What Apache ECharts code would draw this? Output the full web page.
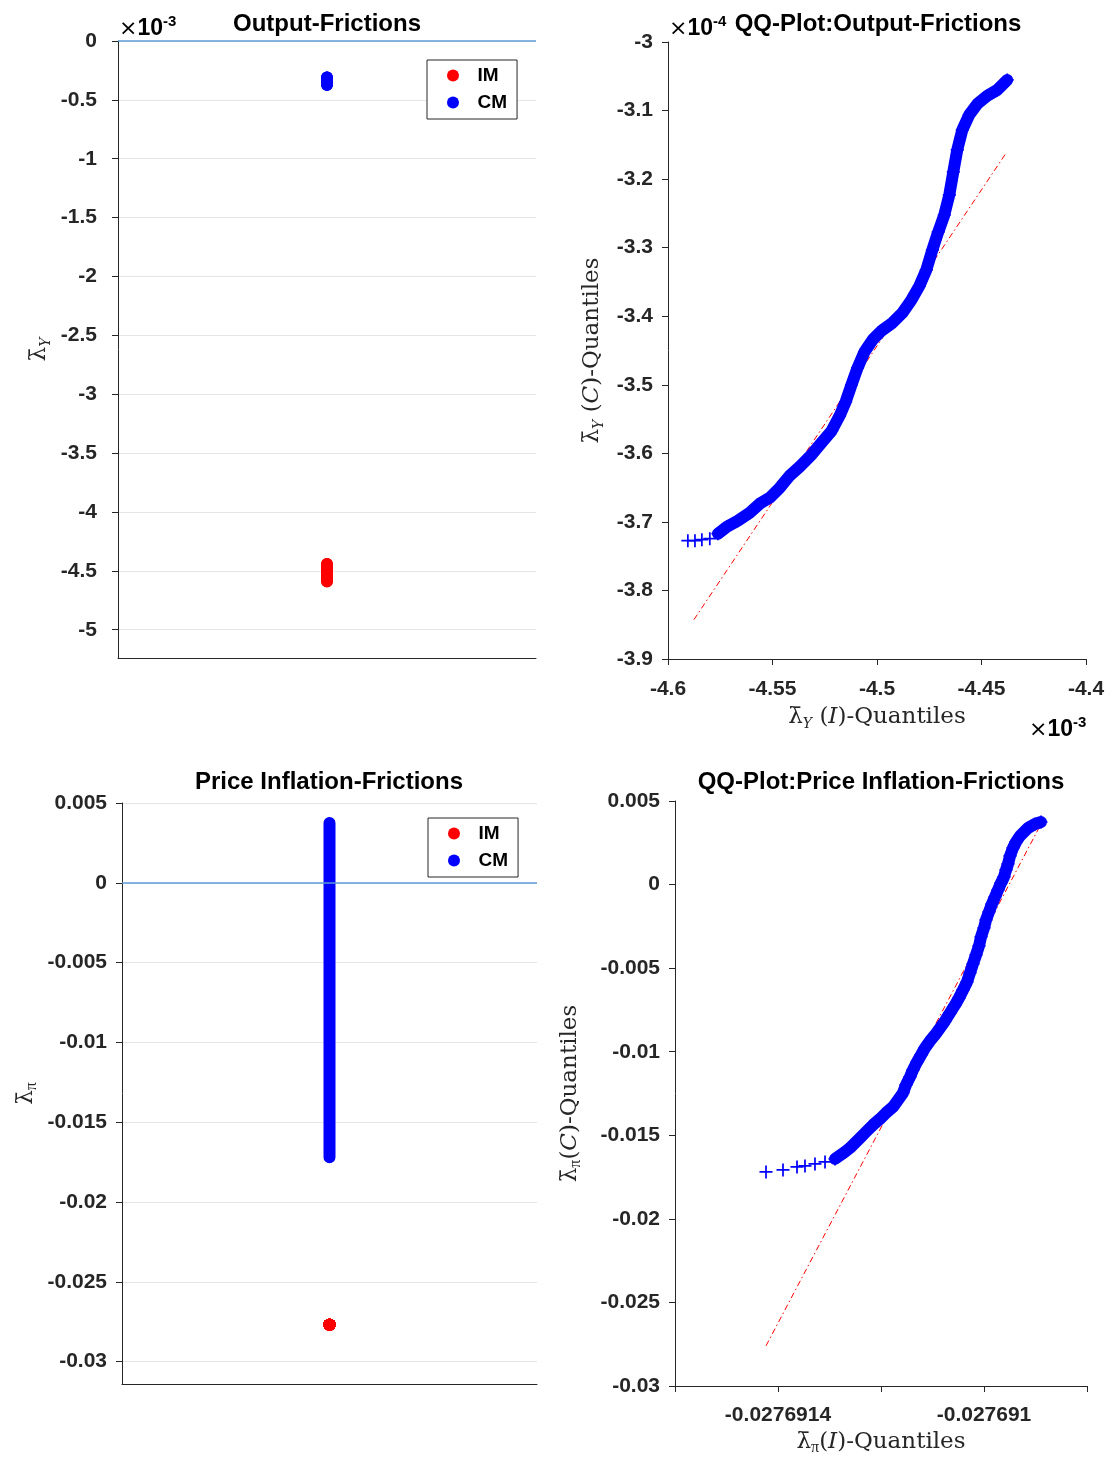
<!DOCTYPE html>
<html><head><meta charset="utf-8">
<script src="https://cdn.jsdelivr.net/npm/echarts@6/dist/echarts.min.js"></script>
<style>html,body{margin:0;padding:0;background:#fff}#c{width:1113px;height:1459px}</style>
</head><body><div id="c"></div>
<script>
// ---- Output frictions: sorted quantiles. IM in units of 1e-3, CM in units of 1e-4 ----
const outIM = [-4.5905,-4.5871,-4.5838,-4.5800,-4.5761,-4.5718,-4.5666,-4.5609,-4.5561,-4.5513,-4.5465,-4.5418,-4.5370,-4.5313,-4.5265,-4.5217,-4.5179,-4.5150,-4.5122,-4.5093,-4.5060,-4.5021,-4.4979,-4.4926,-4.4878,-4.4835,-4.4797,-4.4764,-4.4735,-4.4707,-4.4678,-4.4654,-4.4635,-4.4616,-4.4592,-4.4559,-4.4520,-4.4473,-4.4425,-4.4396,-4.4377];
const outCM = [-3.7274,-3.7274,-3.7259,-3.7245,-3.7172,-3.7070,-3.6983,-3.6866,-3.6735,-3.6647,-3.6501,-3.6327,-3.6195,-3.6020,-3.5845,-3.5671,-3.5452,-3.5248,-3.5000,-3.4752,-3.4519,-3.4344,-3.4213,-3.4096,-3.3950,-3.3761,-3.3557,-3.3324,-3.3032,-3.2770,-3.2522,-3.2230,-3.1895,-3.1574,-3.1283,-3.1064,-3.0904,-3.0787,-3.0700,-3.0612,-3.0554];
const outRefX = [-4.5876, -4.4382];
const outRefY = [-3.8426, -3.1618];

// ---- Price inflation frictions: sorted quantiles ----
const piIM = [-0.0276914233,-0.0276913903,-0.0276913631,-0.0276913476,-0.0276913282,-0.0276913087,-0.0276912893,-0.0276912699,-0.0276912602,-0.0276912505,-0.0276912388,-0.0276912272,-0.0276912155,-0.0276912020,-0.0276911903,-0.0276911767,-0.0276911670,-0.0276911573,-0.0276911515,-0.0276911437,-0.0276911379,-0.0276911301,-0.0276911223,-0.0276911146,-0.0276911049,-0.0276910952,-0.0276910854,-0.0276910757,-0.0276910660,-0.0276910563,-0.0276910486,-0.0276910408,-0.0276910330,-0.0276910272,-0.0276910214,-0.0276910155,-0.0276910097,-0.0276910058,-0.0276910000,-0.0276909961,-0.0276909903,-0.0276909845,-0.0276909786,-0.0276909728,-0.0276909670,-0.0276909612,-0.0276909573,-0.0276909534,-0.0276909495,-0.0276909437,-0.0276909379,-0.0276909301,-0.0276909146,-0.0276909010,-0.0276908893];
const piCM = [-0.017190,-0.017070,-0.016891,-0.016831,-0.016711,-0.016592,-0.016412,-0.015993,-0.015754,-0.015455,-0.015096,-0.014737,-0.014378,-0.014020,-0.013661,-0.013302,-0.012883,-0.012465,-0.011986,-0.011508,-0.011089,-0.010610,-0.010192,-0.009773,-0.009354,-0.008996,-0.008577,-0.008158,-0.007680,-0.007201,-0.006783,-0.006304,-0.005826,-0.005287,-0.004749,-0.004211,-0.003672,-0.003134,-0.002596,-0.002117,-0.001639,-0.001160,-0.000742,-0.000323,0.000096,0.000455,0.000873,0.001232,0.001710,0.002189,0.002548,0.002907,0.003385,0.003624,0.003744];
const piRefX = [-0.0276914233, -0.0276908913];
const piRefY = [-0.027597, 0.003505];

// ---- tick labels / texts ----
const piXTickVals = [-0.0276914, -0.027691];
const piXTickLabels = ['-0.0276914', '-0.027691'];
const titles = ['Output-Frictions', 'QQ-Plot:Output-Frictions', 'Price Inflation-Frictions', 'QQ-Plot:Price Inflation-Frictions'];
const legendNames = ['IM', 'CM'];

const SANS = 'Liberation Sans', SERIF = 'DejaVu Serif';
const AX = '#262626', BLUE = '#0000ff', RED = '#ff0000', ZERO = '#5b9bd5';
const plusPath = 'path://M0,5.2 L12,5.2 L12,6.8 L0,6.8 Z M5.2,0 L6.8,0 L6.8,12 L5.2,12 Z';

const nameRich = {
  l: {fontFamily: SERIF, fontSize: 23, color: AX, lineHeight: 28, verticalAlign: 'middle'},
  i: {fontFamily: SERIF, fontSize: 23, fontStyle: 'italic', color: AX, lineHeight: 28, verticalAlign: 'middle'},
  s: {fontFamily: SERIF, fontSize: 14, fontStyle: 'italic', color: AX, lineHeight: 17, verticalAlign: 'bottom'},
  p: {fontFamily: 'Liberation Serif', fontSize: 16, color: AX, lineHeight: 17, verticalAlign: 'bottom'}
};
const tickLabel = (m) => ({fontFamily: SANS, fontWeight: 'bold', fontSize: 21, color: AX, margin: m});
const axLine = {show: true, onZero: false, lineStyle: {color: AX, width: 1}};
const axTick = {show: true, inside: false, length: 6, lineStyle: {color: AX}};
const grid = {show: true, lineStyle: {color: '#e6e6e6', width: 1}};

function legendAt(l, t) {
  return {data: legendNames, orient: 'vertical', left: l, top: t, icon: 'circle', itemWidth: 39, itemHeight: 12,
    itemGap: 8, padding: [6, 10, 7, 20], borderColor: AX, borderWidth: 1, backgroundColor: '#fff',
    textStyle: {fontFamily: SANS, fontWeight: 'bold', fontSize: 19, color: '#000'}};
}
function zeroLine() {
  return {silent: true, symbol: ['none', 'none'], label: {show: false},
    lineStyle: {color: ZERO, width: 1.5, type: 'solid'}, data: [{yAxis: 0}]};
}
function expText(x, y, e) {
  return {type: 'text', left: x, top: y, silent: true,
    style: {text: '{x|×}{n|10}{e|' + e + '}', rich: {
      x: {fontFamily: 'DejaVu Sans', fontSize: 22, color: AX, lineHeight: 26, verticalAlign: 'bottom'},
      n: {fontFamily: SANS, fontWeight: 'bold', fontSize: 23, color: AX, lineHeight: 26, verticalAlign: 'bottom'},
      e: {fontFamily: SANS, fontWeight: 'bold', fontSize: 15, color: AX, lineHeight: 15, verticalAlign: 'top'}}}};
}
// a stack of markers drawn as a continuous column (same values, library scale)
function column(xi, yi, color, vals) {
  return {name: 'col', type: 'line', xAxisIndex: xi, yAxisIndex: yi, showSymbol: false, silent: true,
    lineStyle: {color: color, width: 12, cap: 'round'}, data: vals.map(v => [1, v])};
}

const option = {
  animation: false,
  backgroundColor: '#fff',
  title: [
    {text: titles[0], left: 327, top: 12, textAlign: 'center'},
    {text: titles[1], left: 878, top: 12, textAlign: 'center'},
    {text: titles[2], left: 329, top: 770, textAlign: 'center'},
    {text: titles[3], left: 881, top: 770, textAlign: 'center'}
  ].map(t => Object.assign(t, {padding: 0, textStyle: {fontFamily: SANS, fontWeight: 'bold', fontSize: 24, color: '#000'}})),
  legend: [legendAt(427, 60), legendAt(428, 818)],
  grid: [
    {left: 118, top: 41, width: 418, height: 617},
    {left: 668, top: 42, width: 418, height: 617},
    {left: 122, top: 803, width: 415, height: 581},
    {left: 675, top: 801, width: 412, height: 585}
  ],
  xAxis: [
    {gridIndex: 0, type: 'value', min: 0, max: 2, axisLine: axLine, axisTick: {show: false}, axisLabel: {show: false}, splitLine: {show: false}},
    {gridIndex: 1, type: 'value', min: -4.6, max: -4.4, interval: 0.05, axisLine: axLine, axisTick: axTick,
      axisLabel: tickLabel(20), splitLine: {show: false},
      name: '{l|λ̄}{s|Y}{l| (}{i|I}{l|)-Quantiles}', nameLocation: 'middle', nameGap: 44, nameTextStyle: {rich: nameRich}},
    {gridIndex: 2, type: 'value', min: 0, max: 2, axisLine: axLine, axisTick: {show: false}, axisLabel: {show: false}, splitLine: {show: false}},
    {gridIndex: 3, type: 'value', min: -0.0276916, max: -0.0276908, interval: 0.0000002, axisLine: axLine, axisTick: axTick,
      axisLabel: Object.assign(tickLabel(19), {showMinLabel: true, showMaxLabel: true, formatter: v => {
        for (let k = 0; k < piXTickVals.length; k++) if (Math.abs(v - piXTickVals[k]) < 1e-11) return piXTickLabels[k];
        return '';
      }}), splitLine: {show: false},
      name: '{l|λ̄}{p|π}{l|(}{i|I}{l|)-Quantiles}', nameLocation: 'middle', nameGap: 42, nameTextStyle: {rich: nameRich}}
  ],
  yAxis: [
    {gridIndex: 0, type: 'value', min: -5.24, max: 0, splitNumber: 10, axisLine: axLine, axisTick: axTick,
      axisLabel: Object.assign(tickLabel(21), {showMinLabel: false}), splitLine: grid,
      name: '{l|λ̄}{s|Y}', nameLocation: 'middle', nameGap: 65, nameTextStyle: {rich: nameRich}},
    {gridIndex: 1, type: 'value', min: -3.9, max: -3, interval: 0.1, axisLine: axLine, axisTick: axTick,
      axisLabel: tickLabel(15), splitLine: {show: false},
      name: '{l|λ̄}{s|Y}{l| (}{i|C}{l|)-Quantiles}', nameLocation: 'middle', nameGap: 62, nameTextStyle: {rich: nameRich}},
    {gridIndex: 2, type: 'value', min: -0.0314, max: 0.005, splitNumber: 8, axisLine: axLine, axisTick: axTick,
      axisLabel: Object.assign(tickLabel(15), {showMinLabel: false}), splitLine: grid,
      name: '{l|λ̄}{p|π}', nameLocation: 'middle', nameGap: 82, nameTextStyle: {rich: nameRich}},
    {gridIndex: 3, type: 'value', min: -0.03, max: 0.005, interval: 0.005, axisLine: axLine, axisTick: axTick,
      axisLabel: tickLabel(15), splitLine: {show: false},
      name: '{l|λ̄}{p|π}{l|(}{i|C}{l|)-Quantiles}', nameLocation: 'middle', nameGap: 91, nameTextStyle: {rich: nameRich}}
  ],
  graphic: [expText(119, 14, '-3'), expText(669, 14, '-4'), expText(1029, 715, '-3')],
  series: [
    // Output frictions scatter
    {name: 'IM', type: 'scatter', xAxisIndex: 0, yAxisIndex: 0, symbol: 'circle', symbolSize: 11,
      itemStyle: {color: RED, opacity: 1}, data: outIM.map(v => [1, v])},
    column(0, 0, RED, outIM),
    {name: 'CM', type: 'scatter', xAxisIndex: 0, yAxisIndex: 0, symbol: 'circle', symbolSize: 11,
      itemStyle: {color: BLUE, opacity: 1}, data: outCM.map(v => [1, v / 10]), markLine: zeroLine()},
    column(0, 0, BLUE, outCM.map(v => v / 10)),
    // Output QQ
    {name: 'ref1', type: 'line', xAxisIndex: 1, yAxisIndex: 1, showSymbol: false, silent: true,
      lineStyle: {color: RED, width: 1, type: [6, 3, 1.5, 3]}, data: outRefX.map((x, i) => [x, outRefY[i]])},
    {name: 'band1', type: 'line', xAxisIndex: 1, yAxisIndex: 1, showSymbol: false, silent: true,
      lineStyle: {color: BLUE, width: 12, join: 'round', cap: 'round'}, data: outIM.map((x, i) => [x, outCM[i]]).slice(4)},
    {name: 'qq1', type: 'scatter', xAxisIndex: 1, yAxisIndex: 1, symbol: plusPath, symbolSize: 13, silent: true,
      itemStyle: {color: BLUE, opacity: 1}, data: outIM.map((x, i) => [x, outCM[i]])},
    // Inflation frictions scatter
    {name: 'IM', type: 'scatter', xAxisIndex: 2, yAxisIndex: 2, symbol: 'circle', symbolSize: 12,
      itemStyle: {color: RED, opacity: 1}, data: piIM.map(v => [1, v])},
    {name: 'CM', type: 'scatter', xAxisIndex: 2, yAxisIndex: 2, symbol: 'circle', symbolSize: 11,
      itemStyle: {color: BLUE, opacity: 1}, data: piCM.map(v => [1, v]), markLine: zeroLine()},
    column(2, 2, BLUE, piCM),
    // Inflation QQ
    {name: 'ref2', type: 'line', xAxisIndex: 3, yAxisIndex: 3, showSymbol: false, silent: true,
      lineStyle: {color: RED, width: 1, type: [6, 3, 1.5, 3]}, data: piRefX.map((x, i) => [x, piRefY[i]])},
    {name: 'band2', type: 'line', xAxisIndex: 3, yAxisIndex: 3, showSymbol: false, silent: true,
      lineStyle: {color: BLUE, width: 12, join: 'round', cap: 'round'}, data: piIM.map((x, i) => [x, piCM[i]]).slice(6)},
    {name: 'qq2', type: 'scatter', xAxisIndex: 3, yAxisIndex: 3, symbol: plusPath, symbolSize: 13, silent: true,
      itemStyle: {color: BLUE, opacity: 1}, data: piIM.map((x, i) => [x, piCM[i]])}
  ]
};
const chart = echarts.init(document.getElementById('c'), null, {renderer: 'canvas'});
chart.setOption(option);
</script></body></html>
